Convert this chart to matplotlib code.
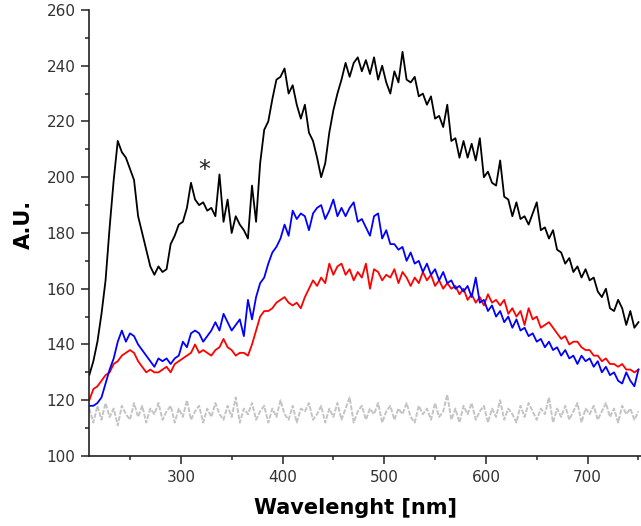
import numpy as np
import matplotlib
matplotlib.use("Agg")
import matplotlib.pyplot as plt
from matplotlib.ticker import MultipleLocator

# wavelength grid of the recorded spectra, 4 nm steps
wavelength = np.arange(210, 751, 4)

# sample spectrum (black)
spec_black = [
    129, 134, 141, 151, 163, 182, 199, 213, 209, 207,
    203, 199, 186, 180, 174, 168, 165, 168, 166, 167,
    176, 179, 183, 184, 189, 198, 192, 190, 191, 188,
    189, 186, 201, 184, 192, 180, 186, 183, 181, 178,
    197, 184, 205, 217, 220, 228, 235, 236, 239, 230,
    233, 226, 221, 226, 216, 213, 207, 200, 205, 216,
    224, 230, 235, 241, 236, 241, 243, 238, 242, 237,
    243, 235, 240, 234, 230, 238, 234, 245, 235, 234,
    236, 229, 230, 226, 229, 221, 222, 218, 226, 213,
    214, 207, 213, 207, 212, 206, 214, 200, 202, 198,
    197, 206, 193, 192, 186, 191, 185, 186, 183, 187,
    191, 181, 182, 178, 181, 174, 173, 169, 171, 166,
    168, 164, 167, 163, 164, 159, 157, 160, 153, 152,
    156, 153, 147, 152, 146, 148,
]

# blue spectrum
spec_blue = [
    118, 118, 119, 121, 126, 131, 135, 141, 145, 141,
    144, 143, 140, 138, 136, 134, 132, 135, 134, 135,
    133, 135, 136, 141, 139, 144, 145, 144, 141, 143,
    145, 148, 145, 151, 148, 145, 147, 149, 143, 156,
    149, 157, 162, 164, 169, 173, 175, 178, 183, 179,
    188, 185, 187, 186, 181, 187, 189, 190, 185, 188,
    192, 186, 189, 186, 189, 191, 184, 185, 182, 179,
    186, 187, 178, 181, 176, 176, 174, 175, 170, 173,
    169, 170, 166, 169, 165, 167, 163, 166, 162, 163,
    160, 161, 159, 161, 157, 164, 155, 156, 152, 154,
    150, 152, 148, 150, 146, 149, 145, 146, 143, 144,
    141, 142, 139, 141, 138, 139, 136, 138, 135, 136,
    133, 136, 134, 135, 132, 134, 130, 132, 129, 130,
    127, 126, 130, 127, 125, 131,
]

# red spectrum
spec_red = [
    120, 124, 125, 127, 129, 130, 133, 134, 136, 137,
    138, 137, 134, 132, 130, 131, 130, 130, 131, 132,
    130, 133, 134, 135, 136, 137, 140, 137, 138, 137,
    136, 138, 139, 142, 139, 138, 136, 137, 137, 136,
    140, 145, 150, 152, 152, 153, 155, 156, 157, 155,
    154, 155, 153, 157, 160, 163, 161, 164, 162, 169,
    165, 168, 169, 165, 167, 163, 166, 164, 169, 160,
    167, 166, 163, 165, 164, 167, 162, 166, 164, 161,
    164, 162, 166, 163, 165, 161, 163, 160, 162, 160,
    161, 158, 160, 156, 158, 155, 157, 154, 158, 155,
    156, 154, 156, 151, 153, 150, 152, 147, 153, 149,
    150, 146, 147, 148, 146, 144, 142, 143, 140, 141,
    141, 139, 138, 138, 136, 136, 134, 135, 133, 133,
    132, 133, 131, 131, 130, 131,
]

# baseline / blank (grey)
spec_blank = [
    117, 112, 118, 113, 119, 114, 117, 111, 118, 115, 113, 119, 114, 118, 112, 117, 115, 119, 113, 116,
    118, 112, 117, 114, 120, 113, 116, 118, 112, 117, 114, 119, 115, 113, 118, 114, 121, 112, 117, 115,
    119, 113, 116, 118, 112, 117, 114, 120, 115, 113, 118, 112, 117, 116, 119, 113, 115, 118, 112, 117,
    114, 119, 113, 117, 121, 112, 116, 118, 113, 117, 115, 119, 112, 116, 118, 113, 117, 115, 119, 114,
    112, 118, 115, 117, 113, 119, 114, 116, 122, 113, 117, 112, 118, 115, 119, 113, 116, 118, 112, 117,
    114, 120, 113, 117, 115, 112, 118, 114, 119, 116, 113, 117, 115, 121, 112, 117, 114, 118, 113, 116,
    119, 112, 117, 115, 118, 113, 116, 119, 114, 117, 112, 118, 115, 117, 113, 116,
]

fig = plt.figure(figsize=(6.41, 5.26), dpi=100)
ax = fig.add_axes([0.1393, 0.1331, 0.8607, 0.848])

ax.plot(wavelength, spec_blank, color="#c4c4c4", linewidth=1.4, linestyle=(0, (2.5, 0.8)))
ax.plot(wavelength, spec_red, color="#ff0000", linewidth=1.3)
ax.plot(wavelength, spec_blue, color="#0000ff", linewidth=1.3)
ax.plot(wavelength, spec_black, color="black", linewidth=1.3)

# mark the artefact band
ax.text(323, 202.5, "*", fontsize=17, ha="center", va="center", color="#222222")

ax.set_xlim(210, 752.5)
ax.set_ylim(100, 260)
ax.xaxis.set_major_locator(MultipleLocator(100))
ax.xaxis.set_minor_locator(MultipleLocator(50))
ax.yaxis.set_major_locator(MultipleLocator(20))
ax.yaxis.set_minor_locator(MultipleLocator(10))

ax.spines["top"].set_visible(False)
ax.spines["right"].set_visible(False)
for side in ["left", "bottom"]:
    ax.spines[side].set_linewidth(1.2)
    ax.spines[side].set_color("#222222")

ax.tick_params(which="major", direction="out", length=6, width=1.1, color="#222222",
               labelsize=11, labelcolor="#333333", pad=4)
ax.tick_params(which="minor", direction="out", length=3, width=1.1, color="#222222")

ax.set_xlabel("Wavelenght [nm]", fontsize=15, fontweight="bold")
ax.set_ylabel("A.U.", fontsize=15, fontweight="bold")
ax.xaxis.set_label_coords(0.483, -0.095)
ax.yaxis.set_label_coords(-0.10, 0.518)

fig.savefig("out.png", dpi=100)
